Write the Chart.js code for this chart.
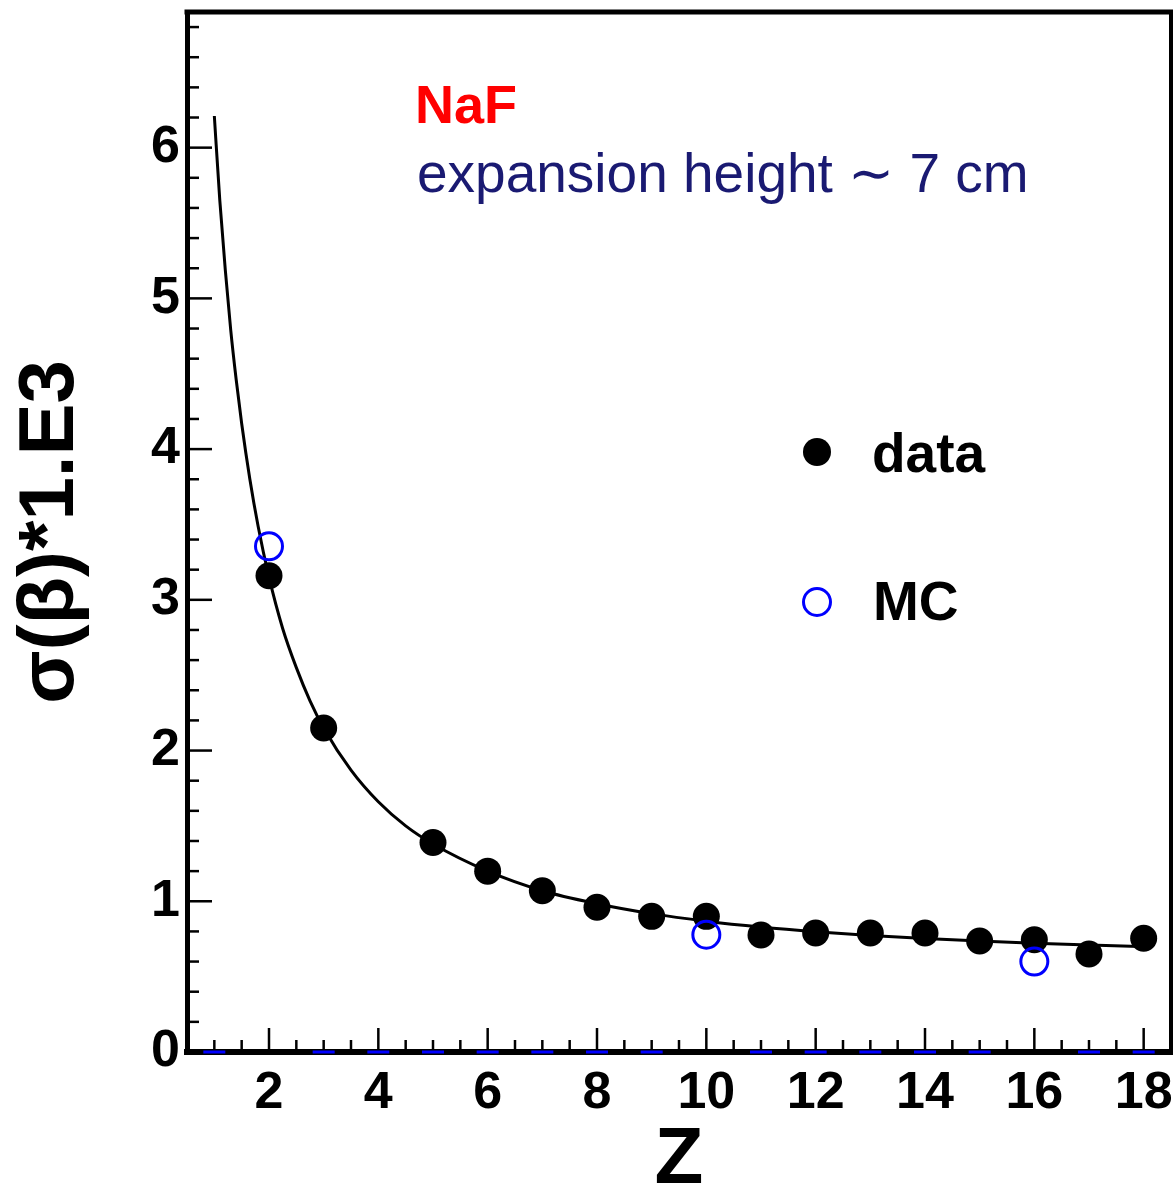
<!DOCTYPE html>
<html>
<head>
<meta charset="utf-8">
<script src="https://cdn.jsdelivr.net/npm/chart.js@4.4.1/dist/chart.umd.min.js"></script>
<style>
html,body{margin:0;padding:0;background:#fff;}
#c{display:block;}
</style>
</head>
<body>
<canvas id="c" width="1176" height="1191"></canvas>
<script>
// ---- data ----
const dataZ   = [2, 3, 5, 6, 7, 8, 9, 10, 11, 12, 13, 14, 15, 16, 17, 18];
const dataVal = [3.16, 2.15, 1.39, 1.20, 1.07, 0.96, 0.90, 0.90, 0.776, 0.79, 0.79, 0.79, 0.736, 0.745, 0.65, 0.755];

const mcZ   = [2, 10, 16];
const mcVal = [3.355, 0.778, 0.60];

const mcZeroZ   = [1, 3, 4, 5, 6, 7, 8, 9, 11, 12, 13, 14, 15, 17, 18];
const mcZeroVal = [0, 0, 0, 0, 0, 0, 0, 0, 0, 0, 0, 0, 0, 0, 0];

const fitZ   = [1.0, 1.1, 1.2, 1.3, 1.4, 1.5, 1.65, 1.8, 2.0, 2.25, 2.5, 2.75, 3.0, 3.5, 4.0, 4.5, 5, 6, 7, 8, 9, 10, 11, 12, 13, 14, 15, 16, 17, 18.15];
const fitVal = [6.21, 5.65, 5.19, 4.79, 4.46, 4.17, 3.80, 3.49, 3.15, 2.81, 2.55, 2.33, 2.15, 1.87, 1.66, 1.50, 1.38, 1.20, 1.07, 0.984, 0.918, 0.868, 0.829, 0.798, 0.773, 0.753, 0.736, 0.722, 0.710, 0.698];

const xTickValues = [2, 4, 6, 8, 10, 12, 14, 16, 18];
const yTickValues = [0, 1, 2, 3, 4, 5, 6];

const toPts = (xs, ys) => xs.map((x, i) => ({x: x, y: ys[i]}));

const FONT = "'Liberation Sans', Arial, Helvetica, sans-serif";

const framePlugin = {
  id: 'frame',
  beforeDatasetsDraw(chart) {
    const ctx = chart.ctx;
    const {left, right, top, bottom} = chart.chartArea;
    const xs = chart.scales.x, ys = chart.scales.y;
    ctx.save();
    ctx.strokeStyle = '#000';
    ctx.lineCap = 'butt';
    // inward tick marks
    ctx.lineWidth = 2.5;
    for (let k = 2; k <= 36; k++) {
      const v = k * 0.5;
      const px = xs.getPixelForValue(v);
      const len = (v % 2 === 0) ? 24 : 12;
      ctx.beginPath(); ctx.moveTo(px, bottom); ctx.lineTo(px, bottom - len); ctx.stroke();
    }
    for (let k = 1; k <= 34; k++) {
      const v = k * 0.2;
      const py = ys.getPixelForValue(v);
      const len = (k % 5 === 0) ? 25 : 12;
      ctx.beginPath(); ctx.moveTo(left, py); ctx.lineTo(left + len, py); ctx.stroke();
    }
    // top and right frame
    ctx.lineWidth = 5;
    ctx.beginPath(); ctx.moveTo(left - 2.5, top); ctx.lineTo(right + 2, top); ctx.stroke();
    ctx.lineWidth = 4;
    ctx.beginPath(); ctx.moveTo(right, top); ctx.lineTo(right, bottom + 3); ctx.stroke();
    ctx.restore();
  },
  afterDraw(chart) {
    const ctx = chart.ctx;
    ctx.save();
    // annotations
    ctx.textAlign = 'left';
    ctx.textBaseline = 'alphabetic';
    ctx.fillStyle = '#ff0000';
    ctx.font = "bold 54px " + FONT;
    ctx.fillText('NaF', 415, 123);
    ctx.fillStyle = '#1a1a72';
    ctx.font = "55px " + FONT;
    ctx.fillText('expansion height \u223C 7 cm', 417, 192);
    // legend
    ctx.fillStyle = '#000';
    ctx.beginPath(); ctx.arc(817, 452, 14, 0, Math.PI * 2); ctx.fill();
    ctx.strokeStyle = '#0000ff';
    ctx.lineWidth = 3;
    ctx.beginPath(); ctx.arc(817, 602, 13.5, 0, Math.PI * 2); ctx.stroke();
    ctx.fillStyle = '#000';
    ctx.font = "bold 55px " + FONT;
    ctx.fillText('data', 872, 472);
    ctx.fillText('MC', 873, 620);
    ctx.restore();
  }
};

function zeroPad(s) {
  s.paddingTop = 0; s.paddingBottom = 0; s.paddingLeft = 0; s.paddingRight = 0;
}

new Chart(document.getElementById('c'), {
  type: 'scatter',
  data: {
    datasets: [
      {
        label: 'MC',
        data: toPts(mcZ, mcVal),
        order: 0,
        pointStyle: 'circle',
        pointRadius: 13.5,
        backgroundColor: 'rgba(0,0,0,0)',
        borderColor: '#0000ff',
        borderWidth: 3,
        showLine: false
      },
      {
        label: 'data',
        data: toPts(dataZ, dataVal),
        order: 1,
        pointStyle: 'circle',
        pointRadius: 13.5,
        backgroundColor: '#000',
        borderColor: '#000',
        borderWidth: 0,
        showLine: false
      },
      {
        label: 'fit',
        data: toPts(fitZ, fitVal),
        order: 2,
        showLine: true,
        borderColor: '#000',
        borderWidth: 3,
        pointRadius: 0,
        fill: false,
        cubicInterpolationMode: 'monotone'
      },
      {
        label: 'MC zero',
        data: toPts(mcZeroZ, mcZeroVal),
        order: 3,
        pointStyle: 'line',
        pointRadius: 11,
        borderColor: '#0000ff',
        backgroundColor: '#0000ff',
        borderWidth: 3,
        showLine: false,
        clip: false
      }
    ]
  },
  options: {
    responsive: false,
    animation: false,
    devicePixelRatio: 1,
    layout: {autoPadding: false, padding: {top: 12, right: 5, left: 0, bottom: 0}},
    plugins: {legend: {display: false}, tooltip: {enabled: false}},
    scales: {
      x: {
        type: 'linear',
        min: 0.5, max: 18.5,
        afterBuildTicks: (s) => { s.ticks = xTickValues.map(v => ({value: v})); },
        afterFit: (s) => { s.height = 139; zeroPad(s); },
        grid: {display: false, drawTicks: false},
        border: {display: true, color: '#000', width: 6},
        ticks: {
          color: '#000',
          padding: 10,
          maxRotation: 0,
          autoSkip: false,
          font: {family: FONT, size: 52, weight: 'bold'}
        },
        title: {
          display: true,
          text: 'Z',
          color: '#000',
          padding: 0,
          font: {family: FONT, size: 80, weight: 'bold', lineHeight: 0.75}
        }
      },
      y: {
        type: 'linear',
        min: 0, max: 6.9,
        afterBuildTicks: (s) => { s.ticks = yTickValues.map(v => ({value: v})); },
        afterFit: (s) => { s.width = 187; zeroPad(s); },
        grid: {display: false, drawTicks: false},
        border: {display: true, color: '#000', width: 5},
        ticks: {
          color: '#000',
          padding: 7,
          autoSkip: false,
          font: {family: FONT, size: 52, weight: 'bold'}
        },
        title: {
          display: true,
          text: '\u03C3(\u03B2)*1.E3',
          color: '#000',
          padding: {top: 22, bottom: 0},
          font: {family: FONT, size: 78, weight: 'bold', lineHeight: 0.75}
        }
      }
    }
  },
  plugins: [framePlugin]
});
</script>
</body>
</html>
